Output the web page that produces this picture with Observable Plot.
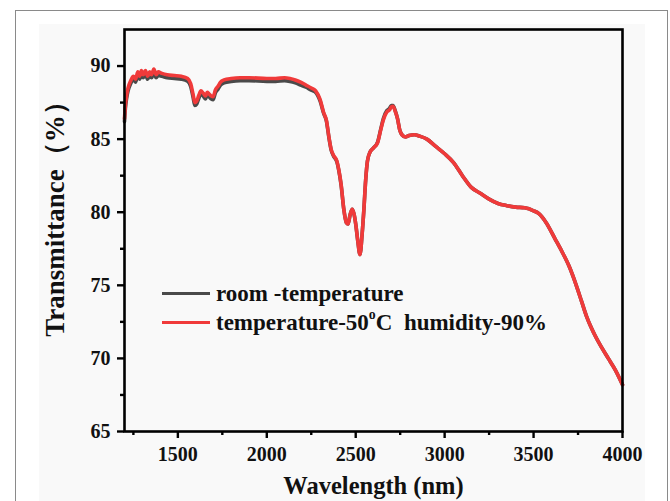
<!DOCTYPE html>
<html>
<head>
<meta charset="utf-8">
<script src="https://cdn.jsdelivr.net/npm/d3@7"></script>
<script src="https://cdn.jsdelivr.net/npm/@observablehq/plot@0.6"></script>
<style>
  html, body { margin: 0; padding: 0; background: #ffffff; }
  #wrap { position: relative; width: 670px; height: 501px; overflow: hidden; background: #fff; }
  #outer { position: absolute; left: 15px; top: 10px; width: 653px; height: 520px; border: 1.5px solid #8a8a8a; box-sizing: border-box; }
  #panel { position: absolute; left: 39px; top: 24px; width: 606px; height: 500px; background: #f9f9f9; }
  #chart { position: absolute; left: 0; top: 0; }
  #legend { position: absolute; left: 162px; top: 279px; font-family: "Liberation Serif", "Times New Roman", serif; font-weight: bold; font-size: 23px; color: #111; }
  #legend .row { display: flex; align-items: center; height: 29px; white-space: pre; }
  #legend .sw { width: 48px; height: 3.5px; margin-right: 6px; }
  #legend sup { font-size: 0.6em; vertical-align: 0; position: relative; top: -0.55em; }
</style>
</head>
<body>
<div id="wrap">
  <div id="outer"></div>
  <div id="panel"></div>
  <div id="chart"></div>
  <div id="legend"></div>
</div>
<script>
// Wavelength (nm)
const wavelength = [1200,1205,1212,1220,1235,1250,1262,1275,1285,1295,1305,1318,1330,1342,1352,1365,1378,1390,1410,1440,1480,1520,1555,1572,1585,1596,1606,1618,1630,1642,1656,1665,1675,1688,1698,1712,1725,1740,1760,1800,1850,1900,2000,2050,2100,2130,2160,2190,2220,2250,2275,2300,2320,2335,2350,2362,2375,2394,2405,2418,2433,2447,2457,2468,2480,2490,2500,2512,2524,2536,2546,2556,2566,2580,2600,2623,2640,2655,2675,2690,2700,2710,2722,2735,2748,2760,2780,2800,2830,2860,2900,2950,3000,3050,3100,3150,3200,3250,3300,3350,3400,3450,3500,3530,3570,3620,3660,3700,3740,3770,3800,3840,3880,3920,3960,4000];
// Transmittance (%) — temperature-50°C humidity-90%
const humid = [86.4,87.3,88.0,88.5,89.0,89.3,89.1,89.6,89.3,89.7,89.4,89.7,89.3,89.6,89.4,89.8,89.4,89.6,89.5,89.4,89.35,89.3,89.15,88.8,88.1,87.5,87.6,88.0,88.3,88.15,87.95,88.2,88.1,87.95,87.9,88.4,88.6,88.9,89.05,89.15,89.2,89.2,89.15,89.15,89.2,89.15,89.05,88.9,88.7,88.5,88.3,87.7,86.8,86.3,85.1,84.3,83.9,83.5,82.9,81.9,80.2,79.3,79.2,79.8,80.2,79.9,79.2,78.0,77.1,78.5,80.2,82.2,83.5,84.1,84.4,84.75,85.6,86.3,86.85,87.0,87.2,87.25,86.9,86.4,85.6,85.3,85.15,85.25,85.3,85.2,85.0,84.5,84.0,83.4,82.5,81.7,81.3,80.9,80.6,80.45,80.35,80.3,80.1,79.9,79.3,78.2,77.3,76.3,75.0,73.9,72.8,71.7,70.8,70.0,69.2,68.2];
// Transmittance (%) — room -temperature
const room = [86.2,87.1,87.8,88.3,88.8,89.1,88.9,89.35,89.1,89.45,89.2,89.45,89.1,89.35,89.2,89.5,89.2,89.35,89.3,89.2,89.15,89.1,88.95,88.6,87.9,87.3,87.4,87.8,88.1,87.95,87.75,88.0,87.9,87.75,87.7,88.2,88.4,88.7,88.85,88.95,89.0,89.0,88.95,88.95,89.0,88.95,88.85,88.7,88.55,88.35,88.2,87.6,86.75,86.25,85.05,84.25,83.85,83.45,82.85,81.85,80.2,79.3,79.2,79.8,80.2,79.9,79.2,78.0,77.1,78.5,80.2,82.2,83.5,84.1,84.4,84.8,85.65,86.4,86.95,87.1,87.3,87.3,86.95,86.4,85.6,85.3,85.15,85.25,85.3,85.2,85.0,84.5,84.0,83.4,82.5,81.7,81.3,80.9,80.6,80.45,80.35,80.3,80.1,79.9,79.3,78.2,77.3,76.3,75.0,73.9,72.8,71.7,70.8,70.0,69.2,68.2];

const seriesNames = ["room -temperature", "temperature-50\u00B0C  humidity-90%"];
const seriesColors = ["#4a4a4a", "#f03a3a"];
const xTicks = [1500, 2000, 2500, 3000, 3500, 4000];
const xMinorTicks = [1250, 1750, 2250, 2750, 3250, 3750];
const yTicks = [65, 70, 75, 80, 85, 90];
const yMinorTicks = [67.5, 72.5, 77.5, 82.5, 87.5];
const xTitle = "Wavelength (nm)";
const yTitle = "Transmittance\uFF08%\uFF09";

const data = [];
wavelength.forEach((w, i) => {
  data.push({w, t: room[i], s: seriesNames[0]});
});
wavelength.forEach((w, i) => {
  data.push({w, t: humid[i], s: seriesNames[1]});
});

const font = "'Liberation Serif', 'Times New Roman', serif";
const fmt = d3.format("d");

const chart = Plot.plot({
  width: 670,
  height: 501,
  marginLeft: 124,
  marginRight: 48,
  marginTop: 29,
  marginBottom: 70,
  style: { background: "transparent", fontFamily: font, fontWeight: "bold", color: "#111" },
  x: { domain: [1200, 4000] },
  y: { domain: [65, 92.5] },
  color: { domain: seriesNames, range: seriesColors },
  marks: [
    Plot.lineY(data, { x: "w", y: "t", z: "s", stroke: "s", strokeWidth: 3.6, curve: "monotone-x" }),
    Plot.frame({ stroke: "#000", strokeWidth: 2.6 }),
    Plot.axisX(xTicks, { tickSize: 7, strokeWidth: 2.4, tickPadding: 8, fontSize: 20, fontWeight: "bold", label: null, stroke: "#000", tickFormat: fmt }),
    Plot.axisX(xMinorTicks, { tickSize: 4, strokeWidth: 2.4, text: null, label: null, stroke: "#000" }),
    Plot.axisY(yTicks, { tickSize: 7, strokeWidth: 2.4, tickPadding: 7, fontSize: 20, fontWeight: "bold", label: null, stroke: "#000", tickFormat: fmt }),
    Plot.axisY(yMinorTicks, { tickSize: 4, strokeWidth: 2.4, text: null, label: null, stroke: "#000" }),
    Plot.text([xTitle], { frameAnchor: "bottom", dy: 62, fontSize: 24.5, fontWeight: "bold", fill: "#111" }),
    Plot.text([yTitle], { frameAnchor: "left", textAnchor: "middle", dx: -69, dy: -18, rotate: -90, fontSize: 27, fontWeight: "bold", fill: "#111" })
  ]
});
document.getElementById("chart").appendChild(chart);

const legend = document.getElementById("legend");
legend.innerHTML = `
  <div class="row"><span class="sw" style="background:${seriesColors[0]}"></span>room -temperature</div>
  <div class="row"><span class="sw" style="background:${seriesColors[1]}"></span>temperature-50<sup>o</sup>C  humidity-90%</div>`;
</script>
</body>
</html>
